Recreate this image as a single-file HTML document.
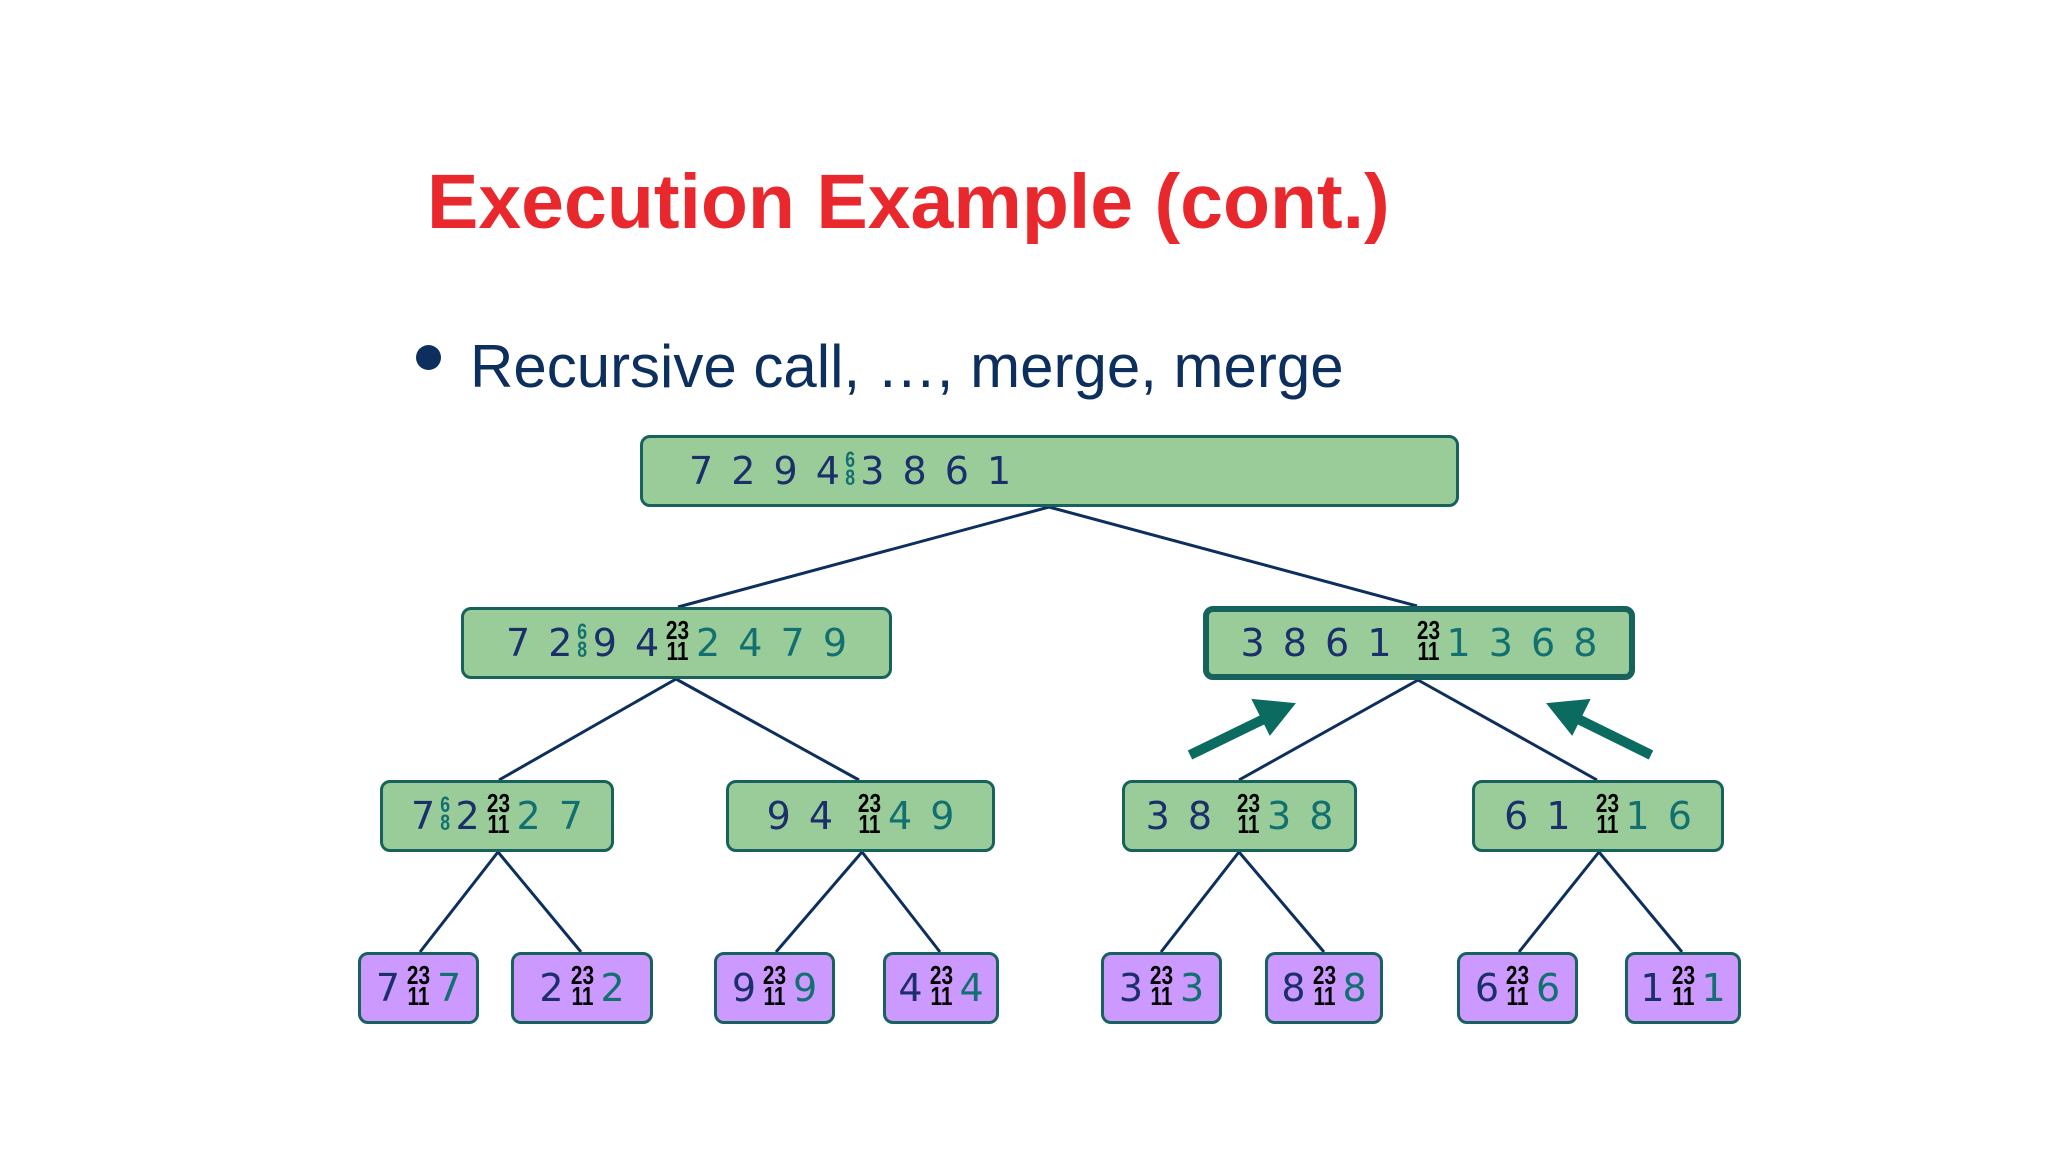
<!DOCTYPE html>
<html><head><meta charset="utf-8"><style>
body{margin:0;width:2048px;height:1152px;background:#fff;position:relative;overflow:hidden;font-family:"DejaVu Sans","Liberation Sans",sans-serif}
.t{position:absolute;left:427px;top:158px;font:bold 77px "Liberation Sans",sans-serif;color:#e8282d;white-space:nowrap}
.b{position:absolute;left:470px;top:332px;font:60px "Liberation Sans",sans-serif;color:#0d2f5e;white-space:nowrap}
.dot{position:absolute;left:416px;top:345px;width:25px;height:25px;border-radius:50%;background:#0d2f5e}
.n{position:absolute;box-sizing:border-box;border:3px solid #17625c;border-radius:10px;background:#99cc99;display:flex;align-items:center;justify-content:center;font-size:38px;word-spacing:6px;color:#1b2f6b;white-space:pre}
.p{background:#cc99ff}
.s{color:#137070}
.f{display:inline-flex;flex-direction:column;align-items:center;vertical-align:middle;margin:0 4px;font-family:"Liberation Sans",sans-serif;position:relative;top:-2px}
.f6{color:#137070;font-weight:bold;font-size:22px;line-height:18px;transform:scaleX(.8)}
.f23{color:#000;font-weight:bold;font-size:26px;line-height:21px;transform:scaleX(.8)}
svg{position:absolute;left:0;top:0}
</style></head><body>
<div class="t">Execution Example (cont.)</div>
<div class="dot"></div>
<div class="b">Recursive call, …, merge, merge</div>
<svg width="2048" height="1152">
<g stroke="#0d2f5e" stroke-width="3" fill="none">
<line x1="1049" y1="507" x2="678" y2="607"/><line x1="1049" y1="507" x2="1417" y2="606"/>
<line x1="676" y1="679" x2="499" y2="780"/><line x1="676" y1="679" x2="859" y2="780"/>
<line x1="1418" y1="680" x2="1239" y2="780"/><line x1="1418" y1="680" x2="1597" y2="780"/>
<line x1="498" y1="852" x2="420" y2="952"/><line x1="498" y1="852" x2="581" y2="952"/>
<line x1="862" y1="852" x2="776" y2="952"/><line x1="862" y1="852" x2="940" y2="952"/>
<line x1="1239" y1="852" x2="1161" y2="952"/><line x1="1239" y1="852" x2="1324" y2="952"/>
<line x1="1599" y1="852" x2="1519" y2="952"/><line x1="1599" y1="852" x2="1682" y2="952"/>
</g>
<g stroke="#0b6b60" stroke-width="10" fill="#0b6b60">
<line x1="1190" y1="755" x2="1266" y2="718"/><polygon points="1294,704 1253,700 1270,734" stroke-width="2"/>
<line x1="1651" y1="755" x2="1576" y2="718"/><polygon points="1548,704 1589,700 1572,734" stroke-width="2"/>
</g>
</svg>
<div class="n" style="left:640px;top:435px;width:819px;height:72px;justify-content:flex-start;padding-left:46px">7 2 9 4<span class="f f6"><span>6</span><span>8</span></span>3 8 6 1</div>
<div class="n" style="left:461px;top:607px;width:431px;height:72px">7 2<span class="f f6"><span>6</span><span>8</span></span>9 4<span class="f f23"><span>23</span><span>11</span></span><span class="s">2 4 7 9</span></div>
<div class="n" style="left:1203px;top:606px;width:432px;height:74px;border-width:6px">3 8 6 1 <span class="f f23"><span>23</span><span>11</span></span> <span class="s">1 3 6 8</span></div>
<div class="n" style="left:380px;top:780px;width:234px;height:72px">7<span class="f f6"><span>6</span><span>8</span></span>2<span class="f f23"><span>23</span><span>11</span></span><span class="s">2 7</span></div>
<div class="n" style="left:726px;top:780px;width:269px;height:72px">9 4 <span class="f f23"><span>23</span><span>11</span></span> <span class="s">4 9</span></div>
<div class="n" style="left:1122px;top:780px;width:235px;height:72px">3 8 <span class="f f23"><span>23</span><span>11</span></span> <span class="s">3 8</span></div>
<div class="n" style="left:1472px;top:780px;width:252px;height:72px">6 1 <span class="f f23"><span>23</span><span>11</span></span> <span class="s">1 6</span></div>
<div class="n p" style="left:358px;top:952px;width:121px;height:72px">7<span class="f f23"><span>23</span><span>11</span></span><span class="s">7</span></div>
<div class="n p" style="left:511px;top:952px;width:142px;height:72px">2<span class="f f23"><span>23</span><span>11</span></span><span class="s">2</span></div>
<div class="n p" style="left:714px;top:952px;width:121px;height:72px">9<span class="f f23"><span>23</span><span>11</span></span><span class="s">9</span></div>
<div class="n p" style="left:883px;top:952px;width:116px;height:72px">4<span class="f f23"><span>23</span><span>11</span></span><span class="s">4</span></div>
<div class="n p" style="left:1101px;top:952px;width:121px;height:72px">3<span class="f f23"><span>23</span><span>11</span></span><span class="s">3</span></div>
<div class="n p" style="left:1265px;top:952px;width:118px;height:72px">8<span class="f f23"><span>23</span><span>11</span></span><span class="s">8</span></div>
<div class="n p" style="left:1457px;top:952px;width:121px;height:72px">6<span class="f f23"><span>23</span><span>11</span></span><span class="s">6</span></div>
<div class="n p" style="left:1625px;top:952px;width:116px;height:72px">1<span class="f f23"><span>23</span><span>11</span></span><span class="s">1</span></div>
</body></html>
